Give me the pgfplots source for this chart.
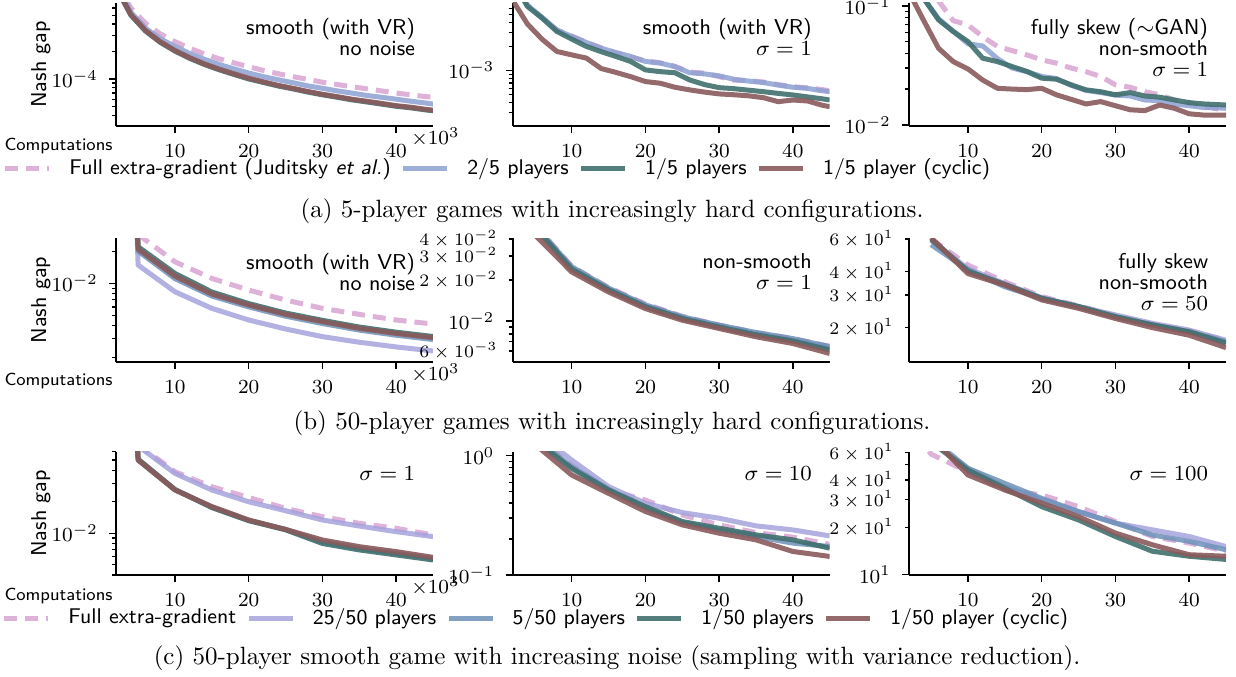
\RequirePackage{fix-cm}
\documentclass[border=0pt]{standalone}
\usepackage{fontspec}
\usepackage{pgfplots}
\pgfplotsset{compat=1.18}

\definecolor{cEG}{RGB}{218,168,212}
\definecolor{cTwo}{RGB}{140,160,210}
\definecolor{cLav}{RGB}{165,163,220}
\definecolor{cSteel}{RGB}{108,145,185}
\definecolor{cTeal}{RGB}{64,112,110}
\definecolor{cBrown}{RGB}{138,90,92}

\newcommand\ftick{\fontsize{8}{9}\selectfont}
\newcommand\fsmall{\fontsize{7.0}{8}\selectfont}
\newcommand\fann{\fontsize{8.6}{8.4}\selectfont\sffamily}
\newcommand\flab{\fontsize{8.6}{9}\selectfont\sffamily}
\newcommand\fcomp{\fontsize{7.0}{8}\selectfont\sffamily}
\newcommand\fleg{\fontsize{8.5}{10}\selectfont\sffamily}
\newcommand\fcap{\fontsize{10}{12}\selectfont}

\newcommand\annot[1]{\node[anchor=north east, align=right, inner sep=0pt, font=\fann] at (0.945,0.88) {#1};}
\newcommand\timesx{\node[anchor=north west, inner sep=0pt, font=\ftick] at (0.93,-0.01) {$\times10^{3}$};}

\tikzset{
 sEG/.style={color=cEG, line width=2pt, dash pattern=on 5.2pt off 3.2pt, line join=round, draw opacity=0.9},
 sTwo/.style={color=cTwo, line width=2pt, line join=round, draw opacity=0.85},
 sLav/.style={color=cLav, line width=2pt, line join=round, draw opacity=0.85},
 sSteel/.style={color=cSteel, line width=2pt, line join=round, draw opacity=0.85},
 sTeal/.style={color=cTeal, line width=2pt, line join=round, draw opacity=0.9},
 sBrown/.style={color=cBrown, line width=2pt, line join=round, draw opacity=0.9},
}

\pgfplotsset{
 myaxis/.style={
  scale only axis, width=126.8pt, height=49.3pt,
  xmin=2, xmax=45,
  axis lines=left, axis line style={-, line width=0.8pt, black},
  xtick={10,20,30,40},
  tick align=outside,
  major tick length=2.8pt, minor tick length=1.6pt,
  tick style={black, line width=0.6pt},
  minor tick style={black, line width=0.5pt},
  tick label style={font=\ftick},
  xticklabel shift=1.2pt,
  yticklabel shift=1pt,
  no markers,
 },
 firstcol/.style={
  ylabel={Nash gap}, xlabel={Computations},
  every axis y label/.style={at={(axis description cs:-0.237,0.5)}, rotate=90, anchor=center, font=\flab},
  every axis x label/.style={at={(axis description cs:-0.0095,#1)}, anchor=east, inner sep=0pt, font=\fcomp},
 },
 smalllab/.style={extra y tick style={grid=none, major tick length=1.6pt, tick style={line width=0.5pt}, yticklabel style={font=\fsmall}}},
 leg/.style={legend columns=-1, legend style={at={#1}, anchor=center, draw=none, fill=none, font=\fleg, inner sep=0pt, nodes={inner sep=0pt},
   /tikz/every odd column/.append style={column sep=7pt},
   /tikz/every even column/.append style={column sep=4pt}},
  legend image code/.code={\draw[##1] (0pt,0pt) -- (17.6pt,0pt);}},
}

\begin{document}
\begin{tikzpicture}
\useasboundingbox (0,0) rectangle (494.4pt,-270.4pt);

% ---------------- Row 1 ----------------
\begin{semilogyaxis}[myaxis, firstcol=-0.163, at={(46.4pt,-50.4pt)}, anchor=south west,
 ymin=3.05e-5, ymax=6.84e-4, ytick={1e-4},
 minor ytick={4e-5,5e-5,6e-5,7e-5,8e-5,9e-5,2e-4,3e-4,4e-4,5e-4,6e-4},
 leg={(1.2003,-0.345)},
 extra description/.code={\timesx\annot{smooth (with VR)\\no noise}}]
\addplot[sEG] coordinates {(2,1.18e-3) (4,6.0e-4) (6,4.08e-4) (8,3.12e-4) (10,2.56e-4) (12,2.17e-4) (14,1.88e-4) (16,1.66e-4) (18,1.50e-4) (20,1.36e-4) (22,1.24e-4) (24,1.14e-4) (26,1.06e-4) (28,9.9e-5) (30,9.2e-5) (32,8.7e-5) (34,8.2e-5) (36,7.8e-5) (38,7.4e-5) (40,7.0e-5) (42,6.7e-5) (44,6.4e-5) (45,6.3e-5)};
\addlegendentry{Full extra-gradient (Juditsky \textit{et al.})}
\addplot[sTwo] coordinates {(2,1.09e-3) (4,5.4e-4) (6,3.6e-4) (8,2.76e-4) (10,2.26e-4) (12,1.90e-4) (14,1.64e-4) (16,1.44e-4) (18,1.29e-4) (20,1.16e-4) (22,1.06e-4) (24,9.8e-5) (26,9.1e-5) (28,8.4e-5) (30,7.9e-5) (32,7.4e-5) (34,7.0e-5) (36,6.6e-5) (38,6.3e-5) (40,6.0e-5) (42,5.7e-5) (44,5.45e-5) (45,5.3e-5)};
\addlegendentry{2/5 players}
\addplot[sTeal] coordinates {(2,1.01e-3) (4,5.02e-4) (6,3.35e-4) (8,2.52e-4) (10,2.02e-4) (12,1.68e-4) (14,1.44e-4) (16,1.26e-4) (18,1.12e-4) (20,1.0e-4) (22,9.15e-5) (24,8.37e-5) (26,7.78e-5) (28,7.19e-5) (30,6.7e-5) (32,6.3e-5) (34,5.9e-5) (36,5.6e-5) (38,5.3e-5) (40,5.02e-5) (42,4.82e-5) (44,4.58e-5) (45,4.48e-5)};
\addlegendentry{1/5 players}
\addplot[sBrown] coordinates {(2,1.03e-3) (4,5.1e-4) (6,3.4e-4) (8,2.56e-4) (10,2.05e-4) (12,1.71e-4) (14,1.46e-4) (16,1.28e-4) (18,1.14e-4) (20,1.02e-4) (22,9.3e-5) (24,8.5e-5) (26,7.9e-5) (28,7.3e-5) (30,6.8e-5) (32,6.4e-5) (34,6.0e-5) (36,5.7e-5) (38,5.4e-5) (40,5.1e-5) (42,4.9e-5) (44,4.65e-5) (45,4.55e-5)};
\addlegendentry{1/5 player (cyclic)}
\end{semilogyaxis}

\begin{semilogyaxis}[myaxis, at={(205.08pt,-50.4pt)}, anchor=south west,
 ymin=2.04e-4, ymax=7.0e-3, ytick={1e-3},
 minor ytick={3e-4,4e-4,5e-4,6e-4,7e-4,8e-4,9e-4,2e-3,3e-3,4e-3,5e-3,6e-3},
 extra description/.code={\annot{smooth (with VR)\\$\sigma=1$}}]
\addplot[sEG] coordinates {(2,1.4e-2) (4,6.6e-3) (6,4.5e-3) (8,3.2e-3) (10,2.7e-3) (12,2.25e-3) (14,1.92e-3) (16,1.65e-3) (18,1.48e-3) (20,1.32e-3) (22,1.25e-3) (24,1.13e-3) (26,9.6e-4) (28,9.3e-4) (30,8.4e-4) (32,7.6e-4) (34,7.5e-4) (36,7.2e-4) (38,6.7e-4) (40,6.3e-4) (42,6.1e-4) (44,5.8e-4) (45,5.6e-4)};
\addplot[sTwo] coordinates {(2,1.4e-2) (4,6.5e-3) (6,4.6e-3) (8,3.2e-3) (10,2.66e-3) (12,2.24e-3) (14,1.9e-3) (16,1.68e-3) (18,1.5e-3) (20,1.3e-3) (22,1.24e-3) (24,1.12e-3) (26,9.4e-4) (28,9.1e-4) (30,8.6e-4) (32,7.8e-4) (34,7.4e-4) (36,7.1e-4) (38,6.6e-4) (40,6.2e-4) (42,6.0e-4) (44,5.6e-4) (45,5.46e-4)};
\addplot[sTeal] coordinates {(2,1.3e-2) (4,6.3e-3) (6,4.5e-3) (8,3.07e-3) (10,2.47e-3) (12,2.0e-3) (14,1.72e-3) (16,1.5e-3) (18,1.3e-3) (20,1.02e-3) (22,9.7e-4) (24,9.4e-4) (26,7.65e-4) (28,6.7e-4) (30,6.13e-4) (32,5.95e-4) (34,5.7e-4) (36,5.46e-4) (38,5.2e-4) (40,4.97e-4) (42,4.7e-4) (44,4.45e-4) (45,4.3e-4)};
\addplot[sBrown] coordinates {(2,7.5e-3) (4,3.8e-3) (6,2.45e-3) (8,1.73e-3) (10,1.57e-3) (12,1.43e-3) (14,1.06e-3) (16,9.5e-4) (18,8.4e-4) (20,7.3e-4) (22,6.96e-4) (24,6.2e-4) (26,5.75e-4) (28,5.4e-4) (30,5.12e-4) (32,5.0e-4) (34,4.85e-4) (36,4.6e-4) (38,4.1e-4) (40,4.3e-4) (42,4.18e-4) (44,3.7e-4) (45,3.55e-4)};
\end{semilogyaxis}

\begin{semilogyaxis}[myaxis, at={(363.6pt,-50.4pt)}, anchor=south west,
 ymin=0.0098, ymax=0.106, ytick={0.01,0.1},
 minor ytick={0.02,0.03,0.04,0.05,0.06,0.07,0.08,0.09},
 extra description/.code={\annot{fully skew ($\sim$GAN)\\non-smooth\\$\sigma=1$}}]
\addplot[sEG] coordinates {(2,0.5) (4,0.2) (6,0.11) (8,0.075) (10,0.069) (12,0.055) (14,0.0455) (16,0.042) (18,0.0387) (20,0.0352) (22,0.033) (24,0.030) (26,0.028) (28,0.0255) (30,0.0217) (32,0.0207) (34,0.019) (36,0.0179) (38,0.0162) (40,0.0152) (42,0.0143) (44,0.0136) (45,0.0134)};
\addplot[sTwo] coordinates {(2,0.25) (4,0.115) (6,0.078) (8,0.061) (10,0.048) (12,0.046) (14,0.036) (16,0.030) (18,0.028) (20,0.0255) (22,0.0245) (24,0.0215) (26,0.0195) (28,0.0187) (30,0.0178) (32,0.0175) (34,0.0162) (36,0.016) (38,0.015) (40,0.0145) (42,0.014) (44,0.0139) (45,0.0138)};
\addplot[sTeal] coordinates {(2,0.25) (4,0.115) (6,0.0763) (8,0.0608) (10,0.050) (12,0.0363) (14,0.034) (16,0.0309) (18,0.0281) (20,0.0247) (22,0.0242) (24,0.0217) (26,0.0197) (28,0.019) (30,0.0179) (32,0.0187) (34,0.0175) (36,0.0171) (38,0.0162) (40,0.0154) (42,0.015) (44,0.0148) (45,0.0147)};
\addplot[sBrown] coordinates {(2,0.13) (4,0.075) (6,0.044) (8,0.034) (10,0.0295) (12,0.0238) (14,0.0203) (16,0.0200) (18,0.0198) (20,0.0203) (22,0.0179) (24,0.0164) (26,0.0150) (28,0.0157) (30,0.0145) (32,0.0134) (34,0.0132) (36,0.0147) (38,0.0138) (40,0.0124) (42,0.0121) (44,0.0121) (45,0.0121)};
\end{semilogyaxis}

\node[font=\fcap, anchor=center] at (244.8pt,-84.4pt) {(a) 5-player games with increasingly hard configurations.};

% ---------------- Row 2 ----------------
\begin{semilogyaxis}[myaxis, firstcol=-0.156, at={(46.4pt,-144.68pt)}, anchor=south west,
 ymin=1.82e-3, ymax=0.0266, ytick={0.01},
 minor ytick={2e-3,3e-3,4e-3,5e-3,6e-3,7e-3,8e-3,9e-3,0.02},
 extra description/.code={\timesx\annot{smooth (with VR)\\no noise}}]
\addplot[sEG] coordinates {(5,0.029) (10,0.016) (15,0.01115) (20,8.65e-3) (25,6.97e-3) (30,5.81e-3) (35,5.1e-3) (40,4.51e-3) (45,4.13e-3)};
\addplot[sLav] coordinates {(4.6,0.1) (5,0.0149) (10,8.34e-3) (15,5.81e-3) (20,4.51e-3) (25,3.71e-3) (30,3.14e-3) (35,2.78e-3) (40,2.51e-3) (45,2.30e-3)};
\addplot[sSteel] coordinates {(4.6,0.1) (5,0.0202) (10,0.0111) (15,7.6e-3) (20,6.0e-3) (25,4.9e-3) (30,4.18e-3) (35,3.62e-3) (40,3.24e-3) (45,2.95e-3)};
\addplot[sTeal] coordinates {(4.6,0.1) (5,0.0222) (10,0.01243) (15,8.3e-3) (20,6.45e-3) (25,5.25e-3) (30,4.48e-3) (35,3.87e-3) (40,3.46e-3) (45,3.15e-3)};
\addplot[sBrown] coordinates {(4.6,0.1) (5,0.0211) (10,0.0117) (15,7.93e-3) (20,6.25e-3) (25,5.1e-3) (30,4.35e-3) (35,3.76e-3) (40,3.37e-3) (45,3.07e-3)};
\end{semilogyaxis}

\begin{semilogyaxis}[myaxis, smalllab, at={(205.08pt,-144.68pt)}, anchor=south west,
 ymin=5.0e-3, ymax=0.0404, ytick={0.01},
 minor ytick={7e-3,8e-3,9e-3},
 extra y ticks={6e-3,2e-2,3e-2,4e-2},
 extra y tick labels={$6\times10^{-3}$,$2\times10^{-2}$,$3\times10^{-2}$,$4\times10^{-2}$},
 extra description/.code={\annot{non-smooth\\$\sigma=1$}}]
\addplot[sEG] coordinates {(5,0.051) (10,0.0252) (15,0.0176) (20,0.0133) (25,0.0108) (30,9.3e-3) (35,8.2e-3) (40,7.4e-3) (45,6.5e-3)};
\addplot[sLav] coordinates {(5,0.05) (10,0.0245) (15,0.0171) (20,0.0128) (25,0.0105) (30,9.1e-3) (35,8.0e-3) (40,7.2e-3) (45,6.3e-3)};
\addplot[sSteel] coordinates {(5,0.05) (10,0.025) (15,0.0174) (20,0.0131) (25,0.0107) (30,9.3e-3) (35,8.2e-3) (40,7.4e-3) (45,6.45e-3)};
\addplot[sTeal] coordinates {(5,0.049) (10,0.0240) (15,0.0169) (20,0.0127) (25,0.0104) (30,9.0e-3) (35,7.9e-3) (40,7.1e-3) (45,6.1e-3)};
\addplot[sBrown] coordinates {(5,0.043) (10,0.0229) (15,0.0163) (20,0.0123) (25,0.0101) (30,8.78e-3) (35,7.63e-3) (40,6.81e-3) (45,5.75e-3)};
\end{semilogyaxis}

\begin{semilogyaxis}[myaxis, smalllab, at={(363.6pt,-144.68pt)}, anchor=south west,
 ymin=13.1, ymax=60.5, ytick=\empty,
 minor ytick={50},
 extra y ticks={20,30,40,60},
 extra y tick labels={$2\times10^{1}$,$3\times10^{1}$,$4\times10^{1}$,$6\times10^{1}$},
 extra description/.code={\annot{fully skew\\non-smooth\\$\sigma=50$}}]
\addplot[sEG] coordinates {(5,60) (10,43.5) (15,35.3) (20,29.4) (25,26.2) (30,23.2) (35,20.9) (40,19.2) (45,17.1)};
\addplot[sLav] coordinates {(5,59) (10,41.6) (15,34.5) (20,29.0) (25,26.0) (30,23.4) (35,21.1) (40,19.4) (45,17.1)};
\addplot[sSteel] coordinates {(5,56) (10,41.0) (15,33.2) (20,28.8) (25,25.8) (30,22.9) (35,20.7) (40,19.0) (45,16.8)};
\addplot[sTeal] coordinates {(5,60) (10,40.3) (15,34.2) (20,28.8) (25,26.0) (30,22.9) (35,20.7) (40,19.0) (45,16.5)};
\addplot[sBrown] coordinates {(5,61) (10,39.1) (15,33.9) (20,28.2) (25,25.4) (30,22.4) (35,20.0) (40,18.2) (45,15.6)};
\end{semilogyaxis}

\node[font=\fcap, anchor=center] at (244.8pt,-169.2pt) {(b) 50-player games with increasingly hard configurations.};

% ---------------- Row 3 ----------------
\begin{semilogyaxis}[myaxis, firstcol=-0.170, at={(46.4pt,-230pt)}, anchor=south west,
 ymin=4.0e-3, ymax=0.060, ytick={0.01},
 minor ytick={4e-3,5e-3,6e-3,7e-3,8e-3,9e-3,0.02,0.03,0.04,0.05,0.06},
 leg={(1.3218,-0.352)},
 extra description/.code={\timesx\annot{$\sigma=1$}}]
\addplot[sEG] coordinates {(5,0.07) (10,0.0387) (15,0.0278) (20,0.0220) (25,0.0173) (30,0.01442) (35,0.01245) (40,0.01116) (45,9.64e-3)};
\addlegendentry{Full extra-gradient}
\addplot[sLav] coordinates {(5,0.068) (10,0.0373) (15,0.0259) (20,0.0200) (25,0.01644) (30,0.0134) (35,0.01174) (40,0.01037) (45,9.3e-3)};
\addlegendentry{25/50 players}
\addplot[sSteel] coordinates {(4.6,0.2) (5,0.05) (10,0.026) (15,0.0178) (20,0.0133) (25,0.0109) (30,8.3e-3) (35,7.2e-3) (40,6.45e-3) (45,5.75e-3)};
\addlegendentry{5/50 players}
\addplot[sTeal] coordinates {(4.6,0.2) (5,0.051) (10,0.0262) (15,0.0176) (20,0.0132) (25,0.0108) (30,8.0e-3) (35,6.94e-3) (40,6.22e-3) (45,5.57e-3)};
\addlegendentry{1/50 players}
\addplot[sBrown] coordinates {(4.6,0.2) (5,0.05) (10,0.0259) (15,0.0180) (20,0.0134) (25,0.0109) (30,8.64e-3) (35,7.46e-3) (40,6.69e-3) (45,5.9e-3)};
\addlegendentry{1/50 player (cyclic)}
\end{semilogyaxis}

\begin{semilogyaxis}[myaxis, at={(205.08pt,-230pt)}, anchor=south west,
 ymin=0.0995, ymax=1.08, ytick={0.1,1},
 minor ytick={0.2,0.3,0.4,0.5,0.6,0.7,0.8,0.9},
 extra description/.code={\annot{$\sigma=10$}}]
\addplot[sEG] coordinates {(5,1.45) (10,0.835) (15,0.515) (20,0.425) (25,0.318) (30,0.2624) (35,0.2264) (40,0.207) (45,0.18)};
\addplot[sLav] coordinates {(5,1.6) (10,0.92) (15,0.55) (20,0.399) (25,0.333) (30,0.2985) (35,0.2575) (40,0.238) (45,0.2122)};
\addplot[sSteel] coordinates {(5,1.4) (10,0.809) (15,0.522) (20,0.362) (25,0.2745) (30,0.238) (35,0.2095) (40,0.1843) (45,0.1728)};
\addplot[sTeal] coordinates {(5,1.35) (10,0.783) (15,0.515) (20,0.374) (25,0.280) (30,0.246) (35,0.2164) (40,0.1965) (45,0.1673)};
\addplot[sBrown] coordinates {(5,1.25) (10,0.689) (15,0.483) (20,0.340) (25,0.2624) (30,0.2234) (35,0.1965) (40,0.1569) (45,0.1425)};
\end{semilogyaxis}

\begin{semilogyaxis}[myaxis, smalllab, at={(363.6pt,-230pt)}, anchor=south west,
 ymin=9.95, ymax=60.6, ytick={10},
 minor ytick={50},
 extra y ticks={20,30,40,60},
 extra y tick labels={$2\times10^{1}$,$3\times10^{1}$,$4\times10^{1}$,$6\times10^{1}$},
 extra description/.code={\annot{$\sigma=100$}}]
\addplot[sEG] coordinates {(4.7,61) (5,58.5) (10,45.2) (15,34.6) (20,32.2) (25,27.1) (30,21.8) (35,17.5) (40,15.9) (45,14.1)};
\addplot[sLav] coordinates {(5,74) (10,47.5) (15,36.3) (20,29.9) (25,25.2) (30,21.3) (35,19.3) (40,17.5) (45,15.1)};
\addplot[sSteel] coordinates {(5,72) (10,47.5) (15,38.1) (20,30.6) (25,25.2) (30,21.3) (35,17.9) (40,16.3) (45,14.4)};
\addplot[sTeal] coordinates {(5,70) (10,46.3) (15,35.5) (20,27.1) (25,22.3) (30,17.5) (35,14.1) (40,13.1) (45,12.5)};
\addplot[sBrown] coordinates {(5,75) (10,43.1) (15,34.6) (20,28.5) (25,23.4) (30,18.4) (35,15.5) (40,13.4) (45,13.1)};
\end{semilogyaxis}

\node[font=\fcap, anchor=center] at (246.8pt,-263.2pt) {(c) 50-player smooth game with increasing noise (sampling with variance reduction).};

\end{tikzpicture}
\end{document}
